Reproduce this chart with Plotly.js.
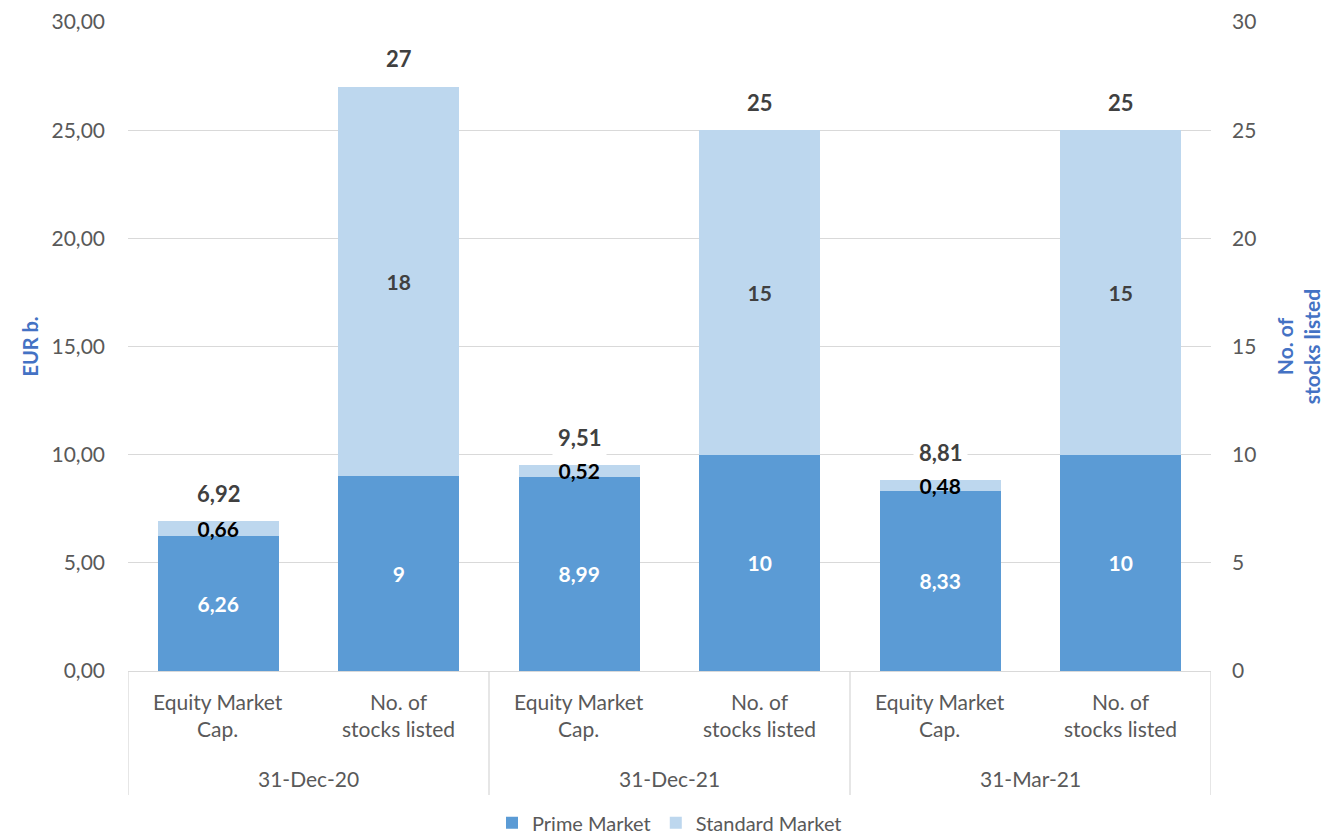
<!DOCTYPE html>
<html>
<head>
<meta charset="utf-8">
<script src="https://cdn.plot.ly/plotly-3.0.1.min.js"></script>
<style>html,body{margin:0;padding:0;background:#fff;}#chart{width:1324px;height:838px;}</style>
</head>
<body>
<div id="chart"></div>
<script>
const groups = ["31-Dec-20", "31-Dec-21", "31-Mar-21"];
const subCategories = ["Equity Market<br>Cap.", "No. of<br>stocks listed"];
const primeMarket = [6.26, 9, 8.99, 10, 8.33, 10];
const standardMarket = [0.66, 18, 0.52, 15, 0.48, 15];
const totals = [6.92, 27, 9.51, 25, 8.81, 25];
const isCap = [true, false, true, false, true, false];

const FONT = "Lato, 'Open Sans', sans-serif";
const xs = primeMarket.map((_, i) => i);
const fmt = (v, cap) => cap ? v.toFixed(2).replace('.', ',') : String(Math.round(v));

const primeTrace = {
  type: 'bar', name: 'Prime Market', x: xs, y: primeMarket,
  marker: {color: '#5B9BD5'},
  text: primeMarket.map((v, i) => fmt(v, isCap[i])),
  textposition: 'inside', insidetextanchor: 'middle',
  textfont: {family: FONT, size: 21, color: '#FFFFFF', weight: 'bold'},
  constraintext: 'none', hoverinfo: 'skip'
};
const standardTrace = {
  type: 'bar', name: 'Standard Market', x: xs, y: standardMarket,
  marker: {color: '#BDD7EE'},
  text: standardMarket.map((v, i) => fmt(v, isCap[i])),
  textposition: 'inside', insidetextanchor: 'middle',
  textfont: {family: FONT, size: 21, weight: 'bold',
    color: isCap.map(c => c ? '#000000' : '#404040')},
  constraintext: 'none', cliponaxis: false, hoverinfo: 'skip'
};
const rightTrace = {
  type: 'scatter', x: [0], y: [0], yaxis: 'y2', mode: 'markers',
  marker: {opacity: 0}, showlegend: false, hoverinfo: 'skip'
};

const annotations = [];
totals.forEach((t, i) => {
  annotations.push({x: i, y: t, xref: 'x', yref: 'y', text: '<b>' + fmt(t, isCap[i]) + '</b>',
    showarrow: false, yanchor: 'middle', yshift: 28, bgcolor: '#FFFFFF', borderpad: 5,
    font: {family: FONT, size: 22, color: '#404040'}});
});
xs.forEach(i => {
  annotations.push({x: i, y: 0, xref: 'x', yref: 'paper', text: subCategories[i % 2],
    showarrow: false, yanchor: 'top', yshift: -16,
    font: {family: FONT, size: 21, color: '#595959'}});
});
groups.forEach((g, k) => {
  annotations.push({x: 2 * k + 0.5, y: 0, xref: 'x', yref: 'paper', text: g,
    showarrow: false, yanchor: 'middle', yshift: -107,
    font: {family: FONT, size: 21, color: '#595959'}});
});

const shapes = [];
[-0.5, 1.5, 3.5, 5.5].forEach(xv => {
  shapes.push({type: 'line', xref: 'x', yref: 'paper', x0: xv, x1: xv, y0: 0, y1: -0.191,
    line: {color: '#D9D9D9', width: 1.3}});
});

const layout = {
  width: 1324, height: 838,
  margin: {l: 128, r: 113, t: 22, b: 167, autoexpand: false},
  barmode: 'stack', bargap: 0.33,
  separators: ',.',
  paper_bgcolor: '#FFFFFF', plot_bgcolor: '#FFFFFF',
  font: {family: FONT, color: '#595959', size: 20},
  showlegend: true,
  legend: {orientation: 'h', x: 0.5, xanchor: 'center', y: -0.234, yanchor: 'middle',
    font: {family: FONT, size: 20, color: '#595959'}, traceorder: 'normal', itemwidth: 30},
  xaxis: {range: [-0.5, 5.5], tickvals: xs, showticklabels: false, ticks: '',
    showgrid: false, zeroline: false, showline: true, linecolor: '#D9D9D9', linewidth: 1.3,
    fixedrange: true},
  yaxis: {range: [0, 30], dtick: 5, tickformat: '.2f', showgrid: true, gridcolor: '#D9D9D9',
    gridwidth: 1.3, zeroline: false, showline: false, ticks: '', ticklabelstandoff: 22,
    tickfont: {family: FONT, size: 21, color: '#595959'},
    title: {text: '<b>EUR b.</b>', standoff: 7, font: {family: FONT, size: 20, color: '#4472C4'}}},
  yaxis2: {range: [0, 30], dtick: 5, tickformat: 'd', overlaying: 'y', side: 'right',
    showgrid: false, zeroline: false, showline: false, ticks: '', ticklabelstandoff: 20,
    tickfont: {family: FONT, size: 21, color: '#595959'},
    title: {text: '<b>No. of<br>stocks listed</b>', standoff: 22, font: {family: FONT, size: 21, color: '#4472C4'}}},
  annotations: annotations,
  shapes: shapes
};

Plotly.newPlot('chart', [primeTrace, standardTrace, rightTrace], layout, {displayModeBar: false, staticPlot: true});
</script>
</body>
</html>
